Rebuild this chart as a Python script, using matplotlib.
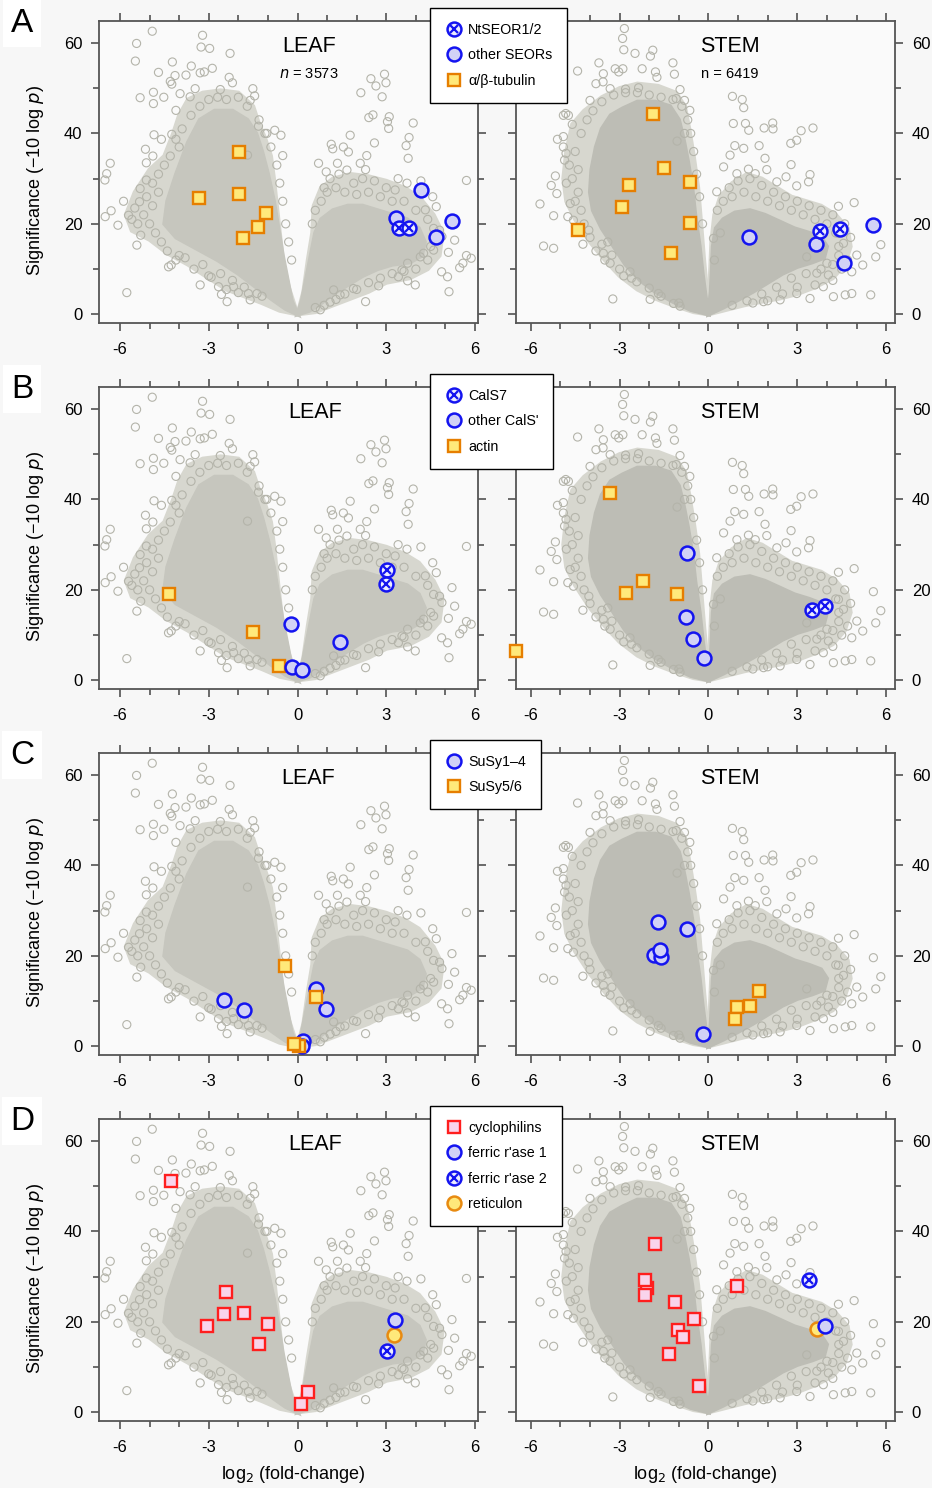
import matplotlib.pyplot as plt
from matplotlib.lines import Line2D

plt.rcParams['font.family'] = ['Liberation Sans', 'DejaVu Sans']
plt.rcParams['axes.unicode_minus'] = False

# ---- background proteins ----
# medium-density zones and dense cores drawn as envelopes, scattered proteins as points
leaf_outer_left = [(0, 0), (-0.3, 6), (-0.5, 12), (-0.6, 18), (-0.7, 24), (-0.8, 30), (-0.9, 35),
                   (-1.1, 39), (-1.3, 42), (-1.5, 46), (-2.0, 49), (-2.6, 49.5), (-3.2, 49),
                   (-3.7, 47.5), (-4.0, 44), (-4.2, 40), (-4.5, 35), (-5.0, 32), (-5.5, 27),
                   (-5.8, 22), (-5.6, 18.5), (-5.0, 16.5), (-4.4, 13.5), (-3.7, 11), (-3.0, 8),
                   (-2.4, 5.5), (-1.8, 4), (-1.2, 2.5), (-0.6, 0.8)]
leaf_outer_right = [(0, 0), (0.2, 5), (0.35, 12), (0.5, 18), (0.55, 24), (0.8, 28), (1.2, 30),
                    (1.8, 31), (2.4, 30.5), (3.0, 29.5), (3.6, 28), (4.1, 26), (4.6, 22), (4.9, 18),
                    (4.8, 13), (4.4, 10), (3.8, 8), (3.0, 7), (2.4, 5), (1.8, 3.5), (1.2, 2),
                    (0.6, 0.5)]
leaf_core_left = [(0, 0), (-0.2, 3), (-0.35, 8), (-0.5, 13), (-0.65, 19), (-0.8, 25), (-1.0, 31),
                  (-1.2, 36), (-1.4, 40), (-1.7, 43), (-2.2, 45), (-2.8, 45), (-3.3, 43), (-3.7, 38),
                  (-4.1, 31), (-4.4, 25), (-4.5, 20), (-4.1, 17), (-3.4, 14.5), (-2.7, 12), (-2.0, 9),
                  (-1.4, 6), (-0.9, 3.5), (-0.4, 1.2)]
leaf_core_right = [(0, 0), (0.15, 3), (0.3, 8), (0.45, 13), (0.6, 18), (0.8, 21), (1.2, 23),
                   (1.7, 24), (2.2, 24), (2.7, 23), (3.2, 22), (3.7, 21), (4.1, 19), (4.3, 16),
                   (4.2, 13), (3.8, 11.5), (3.2, 11), (2.7, 10), (2.2, 8.5), (1.7, 6.5), (1.2, 4.5),
                   (0.8, 2.5), (0.4, 0.8)]
stem_outer_left = [(0, 0), (-0.05, 5), (-0.15, 12), (-0.25, 20), (-0.35, 28), (-0.5, 35),
                   (-0.65, 41), (-0.8, 46), (-1.1, 49), (-1.7, 50.5), (-2.4, 51), (-3.0, 50),
                   (-3.6, 48), (-4.2, 45), (-4.6, 42), (-4.8, 36), (-4.9, 30), (-4.8, 25),
                   (-4.5, 21), (-4.0, 16), (-3.5, 12), (-3.0, 8.5), (-2.4, 5.5), (-1.8, 3.5),
                   (-1.2, 2), (-0.5, 0.5)]
stem_outer_right = [(0, 0), (0.05, 8), (0.1, 16), (0.2, 22), (0.4, 26), (0.8, 29), (1.3, 31),
                    (1.8, 30), (2.3, 28), (2.8, 26), (3.3, 25), (3.8, 24), (4.3, 22), (4.7, 19),
                    (4.8, 15), (4.6, 11), (4.2, 8), (3.6, 6), (3.0, 4.5), (2.4, 3.5), (1.8, 2.8),
                    (1.2, 2), (0.6, 1)]
stem_core_left = [(0, 0), (-0.1, 4), (-0.2, 9), (-0.3, 15), (-0.45, 22), (-0.55, 28), (-0.7, 34),
                  (-0.85, 39), (-1.0, 43), (-1.3, 46), (-1.8, 47), (-2.4, 47), (-2.9, 45.5),
                  (-3.3, 44), (-3.6, 41), (-3.8, 37), (-3.95, 32), (-4.0, 27), (-3.9, 23), (-3.6, 19),
                  (-3.2, 15), (-2.8, 11), (-2.3, 7.5), (-1.8, 5), (-1.2, 2.8), (-0.6, 1.0)]
stem_core_right = [(0, 0), (0.08, 5), (0.12, 10), (0.15, 15), (0.25, 19), (0.5, 21), (0.9, 22.5),
                   (1.4, 23), (1.9, 22), (2.4, 20.5), (2.9, 19), (3.4, 18), (3.8, 17), (4.0, 15),
                   (3.9, 12.5), (3.5, 11.5), (3.0, 10.5), (2.5, 9), (2.0, 7), (1.5, 5), (1.0, 3.2),
                   (0.5, 1.5)]

leaf_pts = [
    (-4.91, 62.6), (-3.21, 61.7), (-3.26, 59.1), (-2.97, 58.8), (-5.44, 59.9), (-5.48, 56.0),
    (-4.23, 55.8), (-2.28, 57.7), (-4.70, 53.5), (-3.59, 54.9), (-3.29, 53.4), (-3.15, 53.6),
    (-2.88, 54.4), (-3.77, 52.9), (-4.30, 51.5), (-4.25, 50.9), (-4.14, 52.8), (-4.87, 49.1),
    (-5.32, 47.9), (-4.52, 48.0), (-4.87, 46.6), (-2.31, 52.4), (-2.20, 51.2), (-2.61, 49.7),
    (-1.51, 49.9), (-1.45, 48.3), (-1.60, 47.3), (-3.46, 49.9), (-3.63, 48.1), (-3.97, 48.8),
    (-4.11, 45.1), (-4.85, 39.7), (-4.60, 38.7), (-4.25, 39.8), (-4.11, 38.7), (-5.14, 36.5),
    (-4.89, 35.0), (-5.11, 33.5), (-6.33, 33.4), (-6.45, 31.1), (-6.51, 29.7), (-5.88, 25.0),
    (-6.30, 22.9), (-6.50, 21.6), (-6.07, 19.7), (-5.71, 21.9), (-5.43, 15.3), (-5.77, 4.8),
    (-5.34, 24.9), (-5.32, 27.8), (-5.11, 29.7), (-4.36, 10.5), (-4.27, 10.9), (-4.11, 12.0),
    (-3.29, 6.5), (-2.92, 8.2), (-2.67, 6.1), (-2.57, 4.4), (-2.38, 2.8), (-2.16, 6.1),
    (-1.66, 4.6), (-1.37, 4.6), (-0.77, 40.7), (-0.56, 39.6), (-0.50, 35.1), (-1.04, 40.0),
    (-1.32, 41.6), (-1.69, 35.2),
    (-5.2, 22), (-5.0, 20), (-4.9, 24), (-4.8, 18), (-5.4, 20), (-5.6, 21), (-4.7, 27), (-4.9, 29),
    (-5.1, 26), (-4.6, 16), (-4.4, 14), (-4.0, 13), (-5.3, 17.5), (-5.5, 23.5), (-4.7, 31),
    (-4.5, 33), (-4.3, 35), (-4.0, 37), (-3.9, 41), (-3.6, 44), (-3.3, 46), (-3.0, 47.5),
    (-2.7, 48), (-2.4, 47.5), (-2.0, 48), (-1.7, 46), (-1.3, 43), (-1.1, 40), (-0.9, 37),
    (-0.7, 33), (-0.6, 29), (-0.5, 25), (-0.4, 20), (-0.3, 16), (-0.2, 12), (-3.8, 12.5),
    (-3.2, 11), (-2.6, 9), (-2.2, 7.5), (-1.8, 6), (-1.2, 4), (-3.5, 10), (-3.0, 8.5),
    (-2.4, 5.5), (-2.0, 4.8), (-1.6, 3.2),
    (2.94, 53.1), (2.99, 51.2), (2.48, 52.1), (2.65, 50.5), (2.14, 49.0), (2.86, 48.1),
    (3.10, 43.7), (3.04, 42.6), (3.08, 41.1), (2.41, 43.5), (2.55, 44.1), (3.91, 42.3),
    (3.77, 39.1), (3.67, 37.3), (3.74, 34.5), (1.78, 39.6), (1.55, 37.0), (1.72, 35.9),
    (1.14, 37.6), (1.19, 36.6), (0.71, 33.4), (0.97, 31.5), (1.35, 33.4), (1.67, 31.9),
    (2.60, 37.9), (2.34, 35.1), (2.12, 33.4), (5.71, 29.6), (4.17, 29.5), (4.57, 26.0),
    (4.69, 23.8), (4.32, 23.1), (5.22, 20.5), (5.31, 16.4), (4.88, 17.2), (4.80, 18.6),
    (4.60, 14.2), (5.10, 13.7), (4.87, 9.4), (5.07, 8.3), (5.12, 5.0), (5.71, 13.0),
    (5.87, 12.4), (5.59, 11.3), (5.48, 10.3), (3.98, 6.5), (3.72, 7.4), (3.41, 8.3),
    (2.74, 6.3), (2.30, 2.8), (1.89, 5.7), (1.44, 4.3), (1.10, 2.7), (0.77, 1.0), (1.22, 5.4),
    (4.15, 12.7), (4.26, 13.5), (3.72, 11.3), (3.53, 9.8),
    (0.5, 20), (0.6, 23), (0.8, 25), (1.0, 27), (1.3, 28), (1.6, 27), (2.0, 26.5), (2.4, 27),
    (2.8, 26), (3.2, 25), (3.6, 25), (4.0, 23), (4.4, 21), (4.6, 19), (4.5, 15), (4.4, 12),
    (4.0, 10), (3.6, 9.5), (3.2, 9), (2.8, 8), (2.4, 7), (2.0, 5.5), (1.6, 4.5), (1.3, 3.3),
    (0.9, 2), (0.6, 1.5), (1.9, 29), (2.2, 30), (2.6, 29.5), (3.0, 28), (3.4, 30), (3.7, 29),
    (1.4, 31), (1.1, 30), (0.9, 28), (2.3, 32), (3.3, 27.5),
]

stem_pts = [
    (-2.84, 63.2), (-2.90, 61.0), (-2.86, 58.5), (-2.48, 57.7), (-1.88, 58.4), (-1.96, 57.1),
    (-1.20, 55.6), (-1.15, 53.1), (-1.79, 53.6), (-1.74, 52.4), (-2.24, 54.3), (-2.89, 54.3),
    (-3.03, 53.6), (-3.15, 54.3), (-3.55, 53.2), (-3.70, 55.6), (-4.42, 53.8), (-3.80, 51.0),
    (-3.56, 51.4), (-3.32, 49.9), (-2.80, 49.8), (-2.36, 50.1), (-0.96, 49.7), (-0.81, 47.3),
    (-1.09, 47.7), (-0.63, 45.1), (-0.81, 40.0), (-1.06, 38.3), (-4.00, 47.3), (-4.82, 44.4),
    (-4.73, 44.0), (-4.90, 44.0), (-5.10, 38.7), (-4.90, 39.3), (-4.81, 35.6), (-4.86, 34.1),
    (-5.17, 30.6), (-5.31, 28.5), (-5.12, 26.7), (-5.69, 24.4), (-5.23, 21.8), (-4.75, 21.6),
    (-4.67, 24.5), (-4.56, 20.8), (-5.57, 15.1), (-5.23, 14.6), (-4.24, 15.5), (-4.04, 18.6),
    (-3.60, 15.5), (-3.55, 13.5), (-3.26, 13.1), (-3.32, 11.3), (-2.86, 8.5), (-2.65, 9.4),
    (-2.42, 7.2), (-3.23, 3.4), (-1.97, 3.3), (-1.69, 4.6), (-1.18, 2.4), (-0.96, 1.8),
    (-4.3, 40), (-4.5, 36), (-4.4, 32), (-4.6, 30), (-4.4, 27), (-4.3, 23), (-4.2, 20),
    (-4.0, 17), (-3.8, 14), (-3.5, 12), (-4.7, 33), (-4.8, 29), (-4.5, 25), (-4.1, 43),
    (-3.9, 45), (-3.6, 47), (-3.2, 48.5), (-2.8, 49), (-2.4, 49), (-2.0, 48.5), (-1.6, 48),
    (-1.2, 47.5), (-0.9, 46), (-0.7, 43), (-0.6, 40), (-0.5, 36), (-0.4, 31), (-0.3, 26),
    (-0.2, 20), (-3.0, 10), (-2.6, 8), (-2.0, 5.8), (-1.6, 4), (-1.0, 2.5), (-3.4, 16),
    (-4.9, 37), (-4.6, 42),
    (0.81, 48.2), (1.14, 47.5), (1.19, 45.7), (0.84, 42.2), (1.25, 42.2), (1.36, 40.7),
    (1.88, 41.2), (2.17, 42.3), (2.18, 41.0), (3.13, 40.6), (3.53, 41.2), (2.78, 37.8),
    (2.98, 38.5), (0.89, 37.3), (1.19, 36.7), (1.71, 37.3), (0.73, 35.2), (0.51, 32.6),
    (0.96, 31.1), (1.35, 32.1), (1.91, 34.5), (1.97, 32.0), (1.58, 31.1), (2.31, 29.3),
    (2.62, 30.4), (2.79, 33.1), (3.43, 30.9), (3.38, 29.3), (2.98, 28.4), (0.28, 27.1),
    (4.92, 24.7), (4.39, 23.9), (5.57, 19.6), (5.82, 15.4), (5.65, 12.7), (5.01, 13.1),
    (5.21, 10.9), (4.84, 9.4), (5.48, 4.3), (4.84, 4.6), (4.62, 4.3), (4.22, 3.9), (4.05, 8.7),
    (3.88, 6.1), (3.43, 3.5), (2.98, 4.6), (2.42, 3.2), (1.86, 2.8), (4.56, 15.7), (4.39, 17.9),
    (4.00, 11.3), (3.66, 9.1), (3.32, 12.7), (0.17, 16.8),
    (0.3, 23), (0.5, 25), (0.8, 26), (1.2, 27), (1.6, 26), (2.0, 25), (2.4, 24), (2.8, 23),
    (3.2, 22), (3.6, 21), (4.0, 20), (4.3, 18), (4.4, 15), (4.4, 13), (4.2, 11), (3.8, 10),
    (3.3, 9), (2.8, 8), (2.3, 6), (1.8, 4.5), (1.3, 3), (0.8, 2), (0.4, 18), (0.2, 12),
    (0.7, 28), (1.0, 29.5), (1.4, 30), (1.8, 28.5), (2.2, 27), (2.6, 26), (3.0, 25), (3.4, 24),
    (3.8, 23), (4.2, 22), (4.6, 20), (4.8, 17), (4.7, 12), (4.5, 10), (3.0, 6), (2.5, 4.5),
    (2.0, 3), (1.5, 2.5), (3.6, 6.5), (4.2, 7.5),
]

# ---- highlighted proteins per row: (x list, y list) ----
a_leaf_nt = ([3.43, 3.77], [19.0, 19.0])
a_leaf_seor = ([3.32, 4.17, 5.22, 4.69], [21.4, 27.6, 20.6, 17.2])
a_leaf_tub = ([-3.32, -1.97, -1.97, -1.07, -1.35, -1.83], [25.7, 35.8, 26.7, 22.3, 19.3, 16.8])
a_stem_nt = ([3.77, 4.44], [18.5, 18.9])
a_stem_seor = ([1.38, 3.64, 5.56, 4.57], [17.2, 15.6, 19.7, 11.4])
a_stem_tub = ([-1.88, -1.49, -2.70, -0.62, -2.92, -0.62, -4.39, -1.26],
              [44.3, 32.3, 28.6, 29.2, 23.8, 20.1, 18.6, 13.6])

b_leaf_cals7 = ([3.04, 3.0], [24.4, 21.2])
b_leaf_cals = ([-0.21, -0.17, 0.16, 1.44], [12.4, 2.9, 2.3, 8.5])
b_leaf_actin = ([-4.35, -1.51, -0.61], [19.1, 10.7, 3.2])
b_stem_cals7 = ([3.51, 3.93], [15.6, 16.4])
b_stem_cals = ([-0.73, -0.75, -0.52, -0.15], [28.2, 14.1, 9.1, 4.9])
b_stem_actin = ([-3.34, -2.78, -2.21, -1.05, -6.50], [41.4, 19.4, 22.0, 19.1, 6.4])

c_leaf_susy14 = ([-2.47, -1.81, 0.61, 0.97, 0.19, 0.15], [10.2, 8.0, 12.6, 8.2, 1.1, 0.0])
c_leaf_susy56 = ([-0.41, 0.64, 0.06, -0.12], [17.7, 11.0, 0.1, 0.5])
c_stem_susy14 = ([-1.69, -0.71, -1.84, -1.60, -1.63, -0.17], [27.4, 25.9, 20.3, 19.7, 21.2, 2.7])
c_stem_susy56 = ([1.70, 1.41, 0.97, 0.89], [12.2, 8.9, 8.6, 6.0])

d_leaf_cyclo = ([-4.26, -2.41, -2.49, -1.81, -3.05, -1.0, -1.30, 0.34, 0.11],
                [51.2, 26.6, 21.7, 21.9, 19.0, 19.5, 15.0, 4.4, 1.8])
d_leaf_fr1 = ([3.29], [20.5])
d_leaf_fr2 = ([3.02], [13.5])
d_leaf_ret = ([3.26], [17.2])
d_stem_cyclo = ([-1.82, -2.06, -2.16, -2.16, -1.13, -0.50, -1.04, -0.87, -1.33, -0.32, 0.97],
                [37.2, 27.6, 29.3, 25.9, 24.3, 20.7, 18.3, 16.6, 12.9, 5.9, 27.9])
d_stem_fr1 = ([3.95], [19.0])
d_stem_fr2 = ([3.40], [29.3])
d_stem_ret = ([3.66], [18.4])

# ---- marker styles ----
BLUE = '#1414f0'
GREY = '#b4b4aa'
styles = {
    'circle': dict(marker='o', ms=10, mfc='#d2d2f6', mec=BLUE, mew=1.8),
    'cross': dict(marker='o', ms=10, mfc='#ececff', mec=BLUE, mew=1.8),
    'square': dict(marker='s', ms=9, mfc='#ffe97a', mec='#e67e00', mew=1.7),
    'cyclo': dict(marker='s', ms=9, mfc='#f9d4ec', mec='#ff1e1e', mew=1.7),
    'ret': dict(marker='o', ms=10, mfc='#ffe97a', mec='#e88a10', mew=1.8),
}
xmark = dict(marker='x', ms=6, mec=BLUE, mew=1.6)


def handle(kind):
    h = Line2D([], [], ls='none', **styles[kind])
    if kind == 'cross':
        return (h, Line2D([], [], ls='none', **xmark))
    return h


def plot_group(ax, xy, kind):
    ax.plot(xy[0], xy[1], ls='none', clip_on=False, zorder=4, **styles[kind])
    if kind == 'cross':
        ax.plot(xy[0], xy[1], ls='none', clip_on=False, zorder=5, **xmark)


def draw_cloud(ax, outers, cores, pts, core_col):
    for poly in outers:
        ax.fill([p[0] for p in poly], [p[1] for p in poly], color='#d7d7cf', lw=3,
                ec='#d7d7cf', zorder=1)
    for poly in cores:
        ax.fill([p[0] for p in poly], [p[1] for p in poly], color=core_col, lw=3,
                ec=core_col, zorder=1)
    ax.scatter([p[0] for p in pts], [p[1] for p in pts], s=34, facecolors='none',
               edgecolors=GREY, linewidths=0.8, zorder=2)


fig = plt.figure(figsize=(9.32, 14.88), dpi=100, facecolor='#f7f7f7')
W, H = 932, 1488

rows = [
    dict(letter='A', bottom=323,
         leaf=[(a_leaf_tub, 'square'), (a_leaf_seor, 'circle'), (a_leaf_nt, 'cross')],
         stem=[(a_stem_tub, 'square'), (a_stem_seor, 'circle'), (a_stem_nt, 'cross')],
         legend=[('NtSEOR1/2', 'cross'), ('other SEORs', 'circle'), ('α/β-tubulin', 'square')],
         leaf_title_x=0.555),
    dict(letter='B', bottom=689,
         leaf=[(b_leaf_actin, 'square'), (b_leaf_cals, 'circle'), (b_leaf_cals7, 'cross')],
         stem=[(b_stem_actin, 'square'), (b_stem_cals, 'circle'), (b_stem_cals7, 'cross')],
         legend=[('CalS7', 'cross'), ("other CalS'", 'circle'), ('actin', 'square')],
         leaf_title_x=0.57),
    dict(letter='C', bottom=1055,
         leaf=[(c_leaf_susy14, 'circle'), (c_leaf_susy56, 'square')],
         stem=[(c_stem_susy14, 'circle'), (c_stem_susy56, 'square')],
         legend=[('SuSy1–4', 'circle'), ('SuSy5/6', 'square')],
         leaf_title_x=0.551),
    dict(letter='D', bottom=1421,
         leaf=[(d_leaf_cyclo, 'cyclo'), (d_leaf_ret, 'ret'), (d_leaf_fr1, 'circle'),
               (d_leaf_fr2, 'cross')],
         stem=[(d_stem_cyclo, 'cyclo'), (d_stem_ret, 'ret'), (d_stem_fr1, 'circle'),
               (d_stem_fr2, 'cross')],
         legend=[('cyclophilins', 'cyclo'), ("ferric r'ase 1", 'circle'),
                 ("ferric r'ase 2", 'cross'), ('reticulon', 'ret')],
         leaf_title_x=0.57),
]

for i, row in enumerate(rows):
    top_px = row['bottom'] - 302
    for side in ('leaf', 'stem'):
        left_px = 99 if side == 'leaf' else 516
        ax = fig.add_axes([left_px / W, 1 - row['bottom'] / H, 379 / W, 302 / H])
        ax.set_facecolor('#fafafa')
        if side == 'leaf':
            draw_cloud(ax, [leaf_outer_left, leaf_outer_right],
                       [leaf_core_left, leaf_core_right], leaf_pts, '#c6c6be')
            ax.set_xlim(-6.71, 6.1)
        else:
            draw_cloud(ax, [stem_outer_left, stem_outer_right],
                       [stem_core_left, stem_core_right], stem_pts, '#bdbdb5')
            ax.set_xlim(-6.5, 6.3)
        ax.set_ylim(-1.92, 64.86)
        for xy, kind in row[side]:
            plot_group(ax, xy, kind)

        ax.set_xticks([-6, -3, 0, 3, 6])
        ax.set_xticks(range(-6, 7), minor=True)
        ax.set_yticks([0, 20, 40, 60])
        ax.set_yticks([10, 30, 50], minor=True)
        ax.tick_params(which='both', direction='out', top=True, right=True, left=True,
                       bottom=True, color='#444444', width=1.1)
        ax.tick_params(which='major', length=6)
        ax.tick_params(which='minor', length=4)
        ax.tick_params(axis='x', labelsize=12, pad=8)
        ax.tick_params(axis='y', labelsize=12, pad=6)
        if side == 'leaf':
            ax.tick_params(axis='y', labelleft=True, labelright=False)
            ax.set_ylabel('Significance (−10 log $\\it{p}$)', fontsize=13)
            ax.yaxis.set_label_coords(-0.14, 0.473)
        else:
            ax.tick_params(axis='y', labelleft=False, labelright=True)
        for sp in ax.spines.values():
            sp.set_color('#555555')
            sp.set_linewidth(1.3)

        title = 'LEAF' if side == 'leaf' else 'STEM'
        tx = row['leaf_title_x'] if side == 'leaf' else 0.565
        ax.text(tx, 0.914, title, transform=ax.transAxes, ha='center', va='center',
                fontsize=15.5)
        if i == 0:
            ntxt = '$\\it{n}$ = 3573' if side == 'leaf' else 'n = 6419'
            ax.text(0.553 if side == 'leaf' else 0.565, 0.825, ntxt, transform=ax.transAxes,
                    ha='center', va='center', fontsize=10.5)
        if i == 3:
            ax.set_xlabel('log$_2$ (fold-change)', fontsize=13)
            ax.xaxis.label.set_va('center')
            ax.xaxis.set_label_coords(0.512 if side == 'leaf' else 0.499, -0.178)

    fig.text(22 / W, 1 - (top_px + 2) / H, row['letter'], ha='center', va='center',
             fontsize=24, bbox=dict(fc='white', ec='none', pad=6))

    handles = [handle(k) for _, k in row['legend']]
    labels = [lab for lab, _ in row['legend']]
    fig.legend(handles, labels, loc='upper left',
               bbox_to_anchor=(430 / W, 1 - (top_px - 13) / H), fontsize=10.3,
               frameon=True, fancybox=False, edgecolor='black', facecolor='white',
               framealpha=1, borderpad=1.05, labelspacing=0.8, handlelength=1.2,
               handletextpad=0.4, borderaxespad=0)

fig.savefig('out.png', dpi=100, facecolor=fig.get_facecolor())
